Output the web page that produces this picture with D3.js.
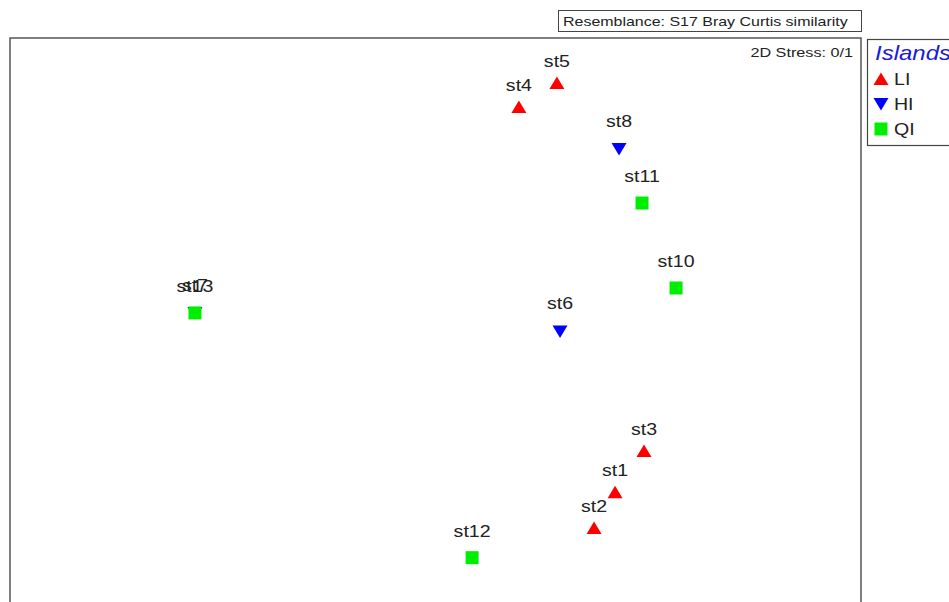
<!DOCTYPE html>
<html>
<head>
<meta charset="utf-8">
<script src="https://cdn.jsdelivr.net/npm/d3@7/dist/d3.min.js"></script>
<style>
  html, body { margin: 0; padding: 0; background: #fff; }
  svg { display: block; font-family: "Liberation Sans", Arial, sans-serif; }
</style>
</head>
<body>
<svg id="chart" width="949" height="602"></svg>
<script>
// nMDS ordination of stations (Bray Curtis resemblance)
const stations = ["st1", "st2", "st3", "st4", "st5", "st6", "st7", "st8", "st10", "st11", "st12", "st13"];
const groups   = ["LI",  "LI",  "LI",  "LI",  "LI",  "HI",  "HI",  "HI",  "QI",   "QI",   "QI",   "QI"];
const mds1     = [0.633, 0.559, 0.735, 0.294, 0.428, 0.439, -0.848, 0.647, 0.848, 0.728, 0.129, -0.848];
const mds2     = [-0.566, -0.690, -0.424, 0.762, 0.845, -0.012, 0.052, 0.617, 0.138, 0.431, -0.792, 0.052];

const legendGroups = ["LI", "HI", "QI"];
const groupColors  = { LI: "#ff0000", HI: "#0000ff", QI: "#00ee00" };
const groupShapes  = { LI: "up", HI: "down", QI: "square" };

// text is drawn slightly widened horizontally
const TEXT_SX = 1.2;

const svg = d3.select("#chart");

const frame = { left: 10, right: 861, top: 38, bottom: 618 };
const x = d3.scaleLinear().domain([-1.5, 1.5]).range([frame.left, frame.right]);
const y = d3.scaleLinear().domain([1, -1]).range([frame.top, frame.bottom]);

// marker path centred on its bounding box
function markerPath(shape) {
  if (shape === "up")   return "M0,-6.5L7.5,6L-7.5,6Z";
  if (shape === "down") return "M0,6.5L7.5,-6L-7.5,-6Z";
  return "M-6.5,-6.5H6.5V6.5H-6.5Z";
}
const labelOffset = { up: 16, down: 22, square: 21 };

function addText(parent, tx, ty, str, size, anchor) {
  return parent.append("text")
    .attr("transform", `translate(${tx},${ty}) scale(${TEXT_SX},1)`)
    .attr("text-anchor", anchor || "start")
    .attr("font-size", size)
    .attr("fill", "#222")
    .text(str);
}

// plot frame
svg.append("rect")
  .attr("x", frame.left).attr("y", frame.top)
  .attr("width", frame.right - frame.left).attr("height", frame.bottom - frame.top)
  .attr("fill", "none").attr("stroke", "#555").attr("stroke-width", 1.5);

// resemblance caption
svg.append("rect")
  .attr("x", 558.5).attr("y", 10.5).attr("width", 303).attr("height", 21)
  .attr("fill", "none").attr("stroke", "#444").attr("stroke-width", 1);
addText(svg, 563, 25.5, "Resemblance: S17 Bray Curtis similarity", 13.3);

// stress
addText(svg, 853, 57, "2D Stress: 0/1", 13.5, "end");

const data = stations.map((s, i) => ({ name: s, group: groups[i], x: mds1[i], y: mds2[i] }));

const pts = svg.append("g").selectAll("g").data(data).join("g")
  .attr("transform", d => `translate(${x(d.x)},${y(d.y)})`);

pts.append("path")
  .attr("d", d => markerPath(groupShapes[d.group]))
  .attr("fill", d => groupColors[d.group]);

pts.each(function (d) {
  addText(d3.select(this), 0, -labelOffset[groupShapes[d.group]], d.name, 16.3, "middle");
});

// legend
const lg = svg.append("g");
lg.append("rect")
  .attr("x", 867.5).attr("y", 39.5).attr("width", 100).attr("height", 106)
  .attr("fill", "#fff").attr("stroke", "#444").attr("stroke-width", 1.2);
addText(lg, 875, 60, "Islands", 20, "start")
  .attr("font-style", "italic").attr("fill", "#1a1adb");
legendGroups.forEach((g, i) => {
  const cy = 79 + i * 25;
  lg.append("path")
    .attr("transform", `translate(881,${cy})`)
    .attr("d", markerPath(groupShapes[g]))
    .attr("fill", groupColors[g]);
  addText(lg, 894, cy + 6, g, 16.3, "start");
});
</script>
</body>
</html>
